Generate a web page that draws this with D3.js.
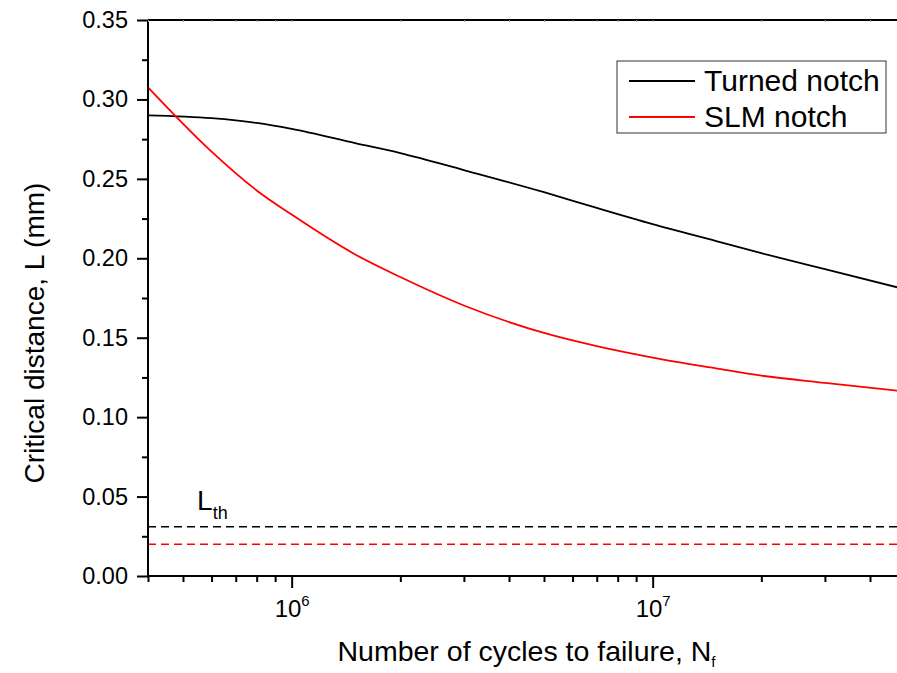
<!DOCTYPE html>
<html>
<head>
<meta charset="utf-8">
<script src="https://cdn.jsdelivr.net/npm/d3@7"></script>
<style>
  html, body { margin: 0; padding: 0; background: #fff; }
  svg { display: block; font-family: "Liberation Sans", Arial, sans-serif; }
</style>
</head>
<body>
<svg id="chart" width="897" height="673"></svg>
<script>
// values
const cycles = [4e5, 6e5, 8e5, 1e6, 1.5e6, 2e6, 3e6, 5e6, 7e6, 1e7, 1.5e7, 2e7, 3e7, 5e7];
const turnedNotch = [0.2900, 0.2882, 0.2852, 0.2814, 0.2725, 0.2662, 0.2555, 0.2416, 0.2317, 0.2215, 0.2108, 0.2032, 0.1931, 0.1805];
const slmNotch = [0.3076, 0.2671, 0.2427, 0.2275, 0.2024, 0.1882, 0.1703, 0.1530, 0.1447, 0.1375, 0.1307, 0.1261, 0.1216, 0.1162];
const thresholds = [0.031, 0.020]; // L_th, turned / SLM
const yTicks = [0, 0.05, 0.10, 0.15, 0.20, 0.25, 0.30, 0.35];
const seriesNames = ['Turned notch', 'SLM notch'];
const seriesColors = ['#000000', '#ff0000'];

const margin = { top: 20, left: 148 };
const plotW = 757, plotH = 556;

const svg = d3.select('#chart');
const g = svg.append('g').attr('transform', `translate(${margin.left},${margin.top})`);

const x = d3.scaleLog().domain([4e5, 5e7]).range([0, plotW]);
const y = d3.scaleLinear().domain([0, 0.35]).range([plotH, 0]);

// lines
const line = d3.line().x((d, i) => x(cycles[i])).y(d => y(d)).curve(d3.curveMonotoneX);
[turnedNotch, slmNotch].forEach((s, k) => {
  g.append('path')
    .datum(s)
    .attr('d', line)
    .attr('fill', 'none')
    .attr('stroke', seriesColors[k])
    .attr('stroke-width', 1.8);
});

// threshold lines
thresholds.forEach((v, k) => {
  g.append('line')
    .attr('x1', 0).attr('x2', plotW)
    .attr('y1', y(v)).attr('y2', y(v))
    .attr('stroke', seriesColors[k])
    .attr('stroke-width', 1.6)
    .attr('stroke-dasharray', '8,5');
});

// L_th label
const lth = g.append('text')
  .attr('x', x(5.47e5))
  .attr('y', y(thresholds[0]) - 17)
  .attr('font-size', 28)
  .attr('fill', '#000');
lth.append('tspan').text('L');
lth.append('tspan').attr('font-size', 18).attr('dy', 9).text('th');

// y axis
const yMinor = d3.range(0.025, 0.35, 0.05);
g.append('g')
  .call(d3.axisLeft(y).tickValues(yMinor).tickSize(6).tickFormat(''))
  .call(a => a.select('.domain').remove())
  .selectAll('line').attr('stroke-width', 2);
const yAxis = g.append('g')
  .call(d3.axisLeft(y).tickValues(yTicks).tickSize(11).tickPadding(9).tickFormat(d3.format('.2f')));
yAxis.select('.domain').attr('stroke-width', 2).attr('d', `M0,${plotH}V0`);
yAxis.selectAll('line').attr('stroke-width', 2);
yAxis.selectAll('text').attr('font-size', 23.5).attr('fill', '#000');

// x axis
const isMajor = v => Math.abs(Math.log10(v) - Math.round(Math.log10(v))) < 1e-9;
const xTicks = x.ticks();
const xAxis = g.append('g')
  .attr('transform', `translate(0,${plotH})`)
  .call(d3.axisBottom(x).tickValues(xTicks).tickSize(5).tickFormat(''));
xAxis.select('.domain').attr('stroke-width', 2).attr('d', `M0,0H${plotW}`);
xAxis.selectAll('.tick line')
  .attr('stroke-width', 2)
  .attr('y2', d => isMajor(d) ? 12 : 6);
xAxis.selectAll('.tick')
  .filter(d => isMajor(d))
  .append('text')
  .attr('y', 41)
  .attr('text-anchor', 'middle')
  .attr('font-size', 24)
  .attr('fill', '#000')
  .each(function (d) {
    const t = d3.select(this);
    t.append('tspan').text('10');
    t.append('tspan').attr('font-size', 15).attr('dy', -11).text(Math.round(Math.log10(d)));
  });

// top frame line with tiny ticks
const topAxis = g.append('g')
  .call(d3.axisTop(x).tickValues(xTicks).tickSize(-2).tickFormat(''));
topAxis.select('.domain').attr('stroke-width', 2).attr('d', `M0,0H${plotW}`);
topAxis.selectAll('.tick line').attr('stroke', '#999').attr('stroke-width', 1);

// axis titles
svg.append('text')
  .attr('x', margin.left + plotW / 2)
  .attr('y', 661)
  .attr('text-anchor', 'middle')
  .attr('font-size', 28.5)
  .attr('fill', '#000')
  .call(t => {
    t.append('tspan').text('Number of cycles to failure, N');
    t.append('tspan').attr('font-size', 15).attr('dy', 6).text('f');
  });

svg.append('text')
  .attr('transform', 'translate(44,333) rotate(-90)')
  .attr('text-anchor', 'middle')
  .attr('font-size', 28)
  .attr('fill', '#000')
  .text('Critical distance, L (mm)');

// legend
const legend = svg.append('g').attr('transform', 'translate(617,61)');
legend.append('rect')
  .attr('width', 269).attr('height', 72)
  .attr('fill', '#fff')
  .attr('stroke', '#333').attr('stroke-width', 1);
seriesNames.forEach((name, k) => {
  const row = legend.append('g').attr('transform', `translate(0,${20 + k * 36})`);
  row.append('line')
    .attr('x1', 12).attr('x2', 78)
    .attr('stroke', seriesColors[k]).attr('stroke-width', 1.8);
  row.append('text')
    .attr('x', 87).attr('y', 10)
    .attr('font-size', 30)
    .attr('fill', '#000')
    .text(name);
});
</script>
</body>
</html>
